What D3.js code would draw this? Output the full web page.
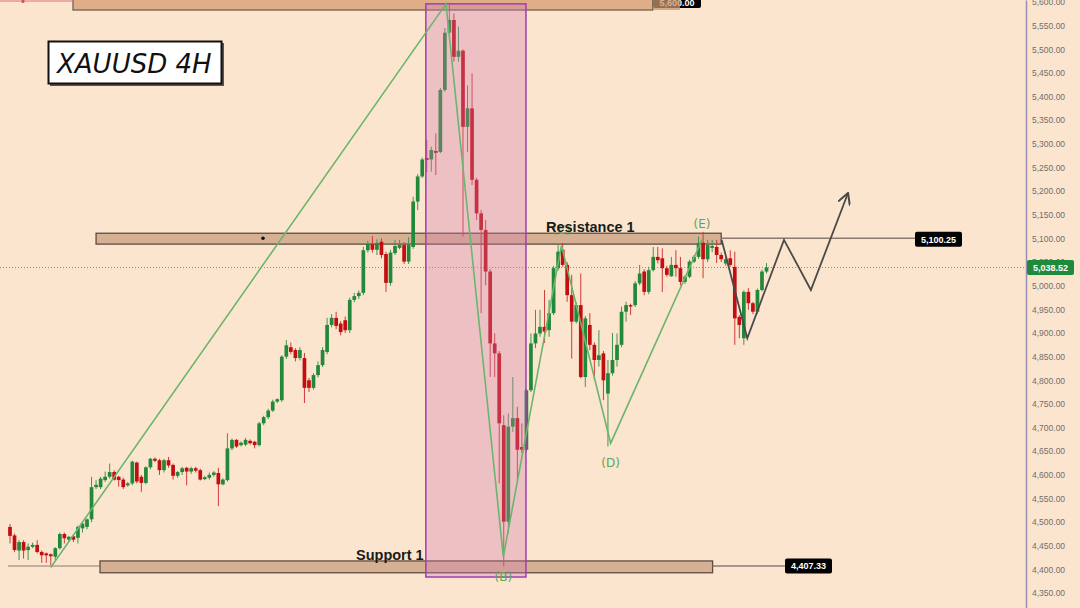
<!DOCTYPE html>
<html><head><meta charset="utf-8">
<script src="https://cdn.jsdelivr.net/npm/d3@7"></script>
<style>html,body{margin:0;padding:0;background:#fce5ce;}svg{display:block}</style>
</head><body><svg id="c" width="1080" height="608"></svg>
<script>
// ---- DATA ----
const opens = [4490,4472,4440,4458,4441,4448,4452,4437,4434,4432,4427,4445,4475,4463,4470,4467,4487,4490,4506,4574,
4574,4589,4596,4606,4596,4590,4578,4582,4626,4596,4583,4616,4634,4631,4610,4631,4621,4598,4606,4615,
4607,4614,4610,4591,4594,4600,4604,4580,4589,4656,4674,4663,4664,4672,4670,4663,4709,4722,4736,4755,
4758,4850,4870,4864,4847,4847,4800,4784,4811,4832,4860,4917,4932,4920,4927,4906,4970,4978,4985,5075,
5088,5076,5093,5067,5006,5069,5080,5086,5051,5082,5178,5231,5270,5267,5285,5283,5414,5535,5562,5484,
5497,5336,5375,5224,5153,5118,5030,4878,4857,4705,4501,4702,4720,4659,4653,4779,4878,4899,4913,4906,
4942,5037,5076,5044,4980,4924,4959,4807,4917,4875,4843,4857,4772,4815,4843,4875,4945,4959,4959,5005,
5030,4987,5033,5061,5058,5037,5020,5044,5037,5008,5019,5051,5061,5091,5056,5080,5082,5065,5047,5058,
5040,4934,4889,4987,4963,4945,4991,5030];
const highs = [4496,4476,4462,4462,4455,4457,4462,4440,4436,4434,4447,4478,4478,4471,4474,4493,4500,4508,4596,4589,
4596,4607,4624,4610,4598,4594,4585,4630,4628,4600,4618,4636,4637,4634,4634,4638,4624,4608,4617,4617,
4617,4617,4613,4598,4605,4608,4615,4593,4688,4677,4676,4671,4678,4675,4672,4712,4725,4740,4759,4762,
4853,4885,4880,4868,4870,4858,4805,4815,4840,4870,4932,4940,4945,4925,4935,4975,4985,4990,5082,5095,
5105,5098,5100,5072,5076,5097,5097,5092,5103,5188,5236,5271,5308,5294,5322,5418,5545,5594,5576,5548,
5500,5424,5449,5228,5160,5139,5035,4899,4862,4726,4730,4807,4744,4709,4783,4899,4949,4949,4991,4970,
5042,5086,5090,5050,5023,4965,5026,4936,4942,4880,4906,4862,4843,4900,4899,4956,4966,4962,5010,5044,
5035,5040,5082,5082,5079,5042,5061,5075,5061,5022,5055,5065,5104,5114,5097,5097,5097,5070,5060,5075,
5072,4938,4990,4995,4966,4994,5034,5048];
const lows = [4455,4437,4420,4423,4420,4445,4434,4414,4414,4409,4420,4442,4455,4460,4458,4455,4478,4485,4500,4570,
4570,4585,4592,4588,4575,4570,4575,4578,4582,4564,4580,4612,4627,4600,4605,4615,4590,4594,4600,4578,
4602,4605,4588,4589,4590,4596,4534,4578,4586,4652,4657,4660,4661,4664,4656,4660,4705,4718,4733,4752,
4754,4845,4855,4840,4842,4752,4775,4780,4806,4828,4855,4912,4908,4895,4900,4900,4965,4972,4980,5070,
5070,5065,5058,4987,5000,5065,5077,5046,5046,5078,5160,5228,5240,5241,5234,5280,5410,5530,5474,5474,
5104,5283,5213,5139,4942,5001,4807,4807,4582,4407,4476,4691,4589,4646,4648,4775,4868,4892,4879,4892,
4938,5032,5040,4966,4846,4920,4804,4786,4864,4800,4829,4758,4660,4810,4829,4870,4924,4938,4955,5001,
4980,4982,5030,5047,4987,5019,5019,5019,5001,5004,5016,5048,5057,5016,5050,5071,5048,5050,5042,5040,
4875,4889,4875,4949,4940,4940,4988,5026];
const closes = [4471,4441,4458,4440,4448,4452,4437,4430,4430,4428,4445,4475,4466,4469,4463,4490,4497,4506,4574,4579,
4592,4596,4606,4590,4589,4574,4582,4628,4586,4583,4616,4634,4630,4610,4631,4620,4598,4606,4614,4607,
4614,4609,4590,4595,4600,4605,4580,4590,4656,4674,4660,4668,4674,4667,4663,4709,4722,4736,4755,4760,
4850,4874,4860,4847,4864,4784,4784,4811,4832,4864,4917,4932,4915,4902,4906,4970,4978,4985,5075,5088,
5076,5090,5065,5006,5070,5084,5086,5051,5086,5178,5231,5267,5266,5287,5281,5414,5535,5562,5484,5497,
5336,5375,5224,5153,5118,5030,4878,4857,4709,4501,4702,4720,4653,4653,4779,4878,4899,4913,4903,4942,
5037,5072,5044,4980,4924,4959,4807,4931,4875,4843,4853,4800,4815,4843,4875,4945,4959,4956,5005,5026,
4987,5033,5061,5054,5037,5023,5044,5037,5008,5019,5051,5061,5090,5056,5086,5084,5065,5056,5056,5044,
4931,4917,4987,4963,4945,4991,5030,5038.52];

const priceTicks = d3.range(4350, 5601, 50);
const lastPrice = 5038.52;
const resistanceLevel = 5100.25, supportLevel = 4407.33, topLevel = 5600.00;

// wave annotation points: [candle index, price]
const waveIdx   = [8.98, 96.25, 108.9, 121.74, 132.6, 152.76];
const wavePrice = [4404, 5596, 4427, 5085, 4667, 5097];
const waveLabels = ["", "", "(B)", "(C)", "(D)", "(E)"];
const projIdx   = [157.1, 162.76, 170.86, 176.8, 185];
const projPrice = [5097, 4889, 5097, 4991, 5196];

// zones: [startIdx, endIdx, topPrice, bottomPrice]
const resistanceZone = [19, 157, 5111, 5088];
const supportZone = [19.87, 155.1, 4418, 4393];
const topZone = [13.9, 141.9, 5606, 5583];
const highlightBox = [91.8, 113.9, 5596, 4384];

// ---- CHART ----
const svg = d3.select("#c");
const W = 1080, H = 608, axisX = 1026;
const x = d3.scaleLinear().domain([0, 167]).range([10, 766.5]);
const y = d3.scaleLinear().domain([4318.5, 5604.2]).range([608, 0]);

svg.append("rect").attr("width", W).attr("height", H).attr("fill", "#fce5ce");

// top zone
svg.append("rect").attr("x", x(topZone[0])).attr("y", y(topZone[2]))
  .attr("width", x(topZone[1]) - x(topZone[0])).attr("height", y(topZone[3]) - y(topZone[2]))
  .attr("fill", "#dfae88").attr("stroke", "#6d5a4c").attr("stroke-width", 1.2);
// top label
const topLab = svg.append("g");
topLab.append("rect").attr("x", 653).attr("y", y(topLevel) - 8).attr("width", 48).attr("height", 14)
  .attr("rx", 2).attr("fill", "#000");
topLab.append("text").attr("x", 677).attr("y", y(topLevel) + 4).attr("text-anchor", "middle")
  .attr("font-family", "Liberation Sans").attr("font-size", 9).attr("font-weight", "bold").attr("fill", "#fff")
  .text(d3.format(",.2f")(topLevel));
svg.append("rect").attr("x", 653).attr("y", -2).attr("width", 27).attr("height", 12)
  .attr("fill", "#c7946c").attr("opacity", 0.75);

// top-left red marker
svg.append("line").attr("x1", 0).attr("x2", x(topZone[0])).attr("y1", 1).attr("y2", 1)
  .attr("stroke", "#e07080").attr("stroke-width", 1);
svg.append("circle").attr("cx", 23).attr("cy", 1.5).attr("r", 1.6).attr("fill", "#d05060");

// resistance zone
svg.append("rect").attr("x", x(resistanceZone[0])).attr("y", y(resistanceZone[2]))
  .attr("width", x(resistanceZone[1]) - x(resistanceZone[0])).attr("height", y(resistanceZone[3]) - y(resistanceZone[2]))
  .attr("fill", "#d6b092").attr("stroke", "#5e4c42").attr("stroke-width", 1.3);
svg.append("line").attr("x1", x(resistanceZone[1])).attr("x2", 916)
  .attr("y1", y(resistanceLevel)).attr("y2", y(resistanceLevel)).attr("stroke", "#8a7a70").attr("stroke-width", 1.5);
svg.append("circle").attr("cx", 263).attr("cy", y(resistanceLevel)).attr("r", 1.8).attr("fill", "#111");

// support zone
svg.append("line").attr("x1", 8).attr("x2", x(supportZone[0]))
  .attr("y1", y(supportLevel)).attr("y2", y(supportLevel)).attr("stroke", "#8a7a70").attr("stroke-width", 1.2);
svg.append("rect").attr("x", x(supportZone[0])).attr("y", y(supportZone[2]))
  .attr("width", x(supportZone[1]) - x(supportZone[0])).attr("height", y(supportZone[3]) - y(supportZone[2]))
  .attr("fill", "#d6b092").attr("stroke", "#5e4c42").attr("stroke-width", 1.3);
svg.append("line").attr("x1", x(supportZone[1])).attr("x2", 785)
  .attr("y1", y(supportLevel)).attr("y2", y(supportLevel)).attr("stroke", "#8a7a70").attr("stroke-width", 1.5);

// dotted last price line
svg.append("line").attr("x1", 0).attr("x2", axisX).attr("y1", y(lastPrice)).attr("y2", y(lastPrice))
  .attr("stroke", "#8c8c8c").attr("stroke-width", 1).attr("stroke-dasharray", "1,2");

// candles
const data = opens.map((o, i) => ({i, o, h: highs[i], l: lows[i], c: closes[i]}));
const bw = 3.7;
const cg = svg.append("g");
cg.selectAll("line.wick").data(data).join("line").attr("class", "wick")
  .attr("x1", d => x(d.i)).attr("x2", d => x(d.i)).attr("y1", d => y(d.h)).attr("y2", d => y(d.l))
  .attr("stroke", d => d.c >= d.o ? "#3d9650" : "#cf3a3a").attr("stroke-width", 1);
cg.selectAll("rect.body").data(data).join("rect").attr("class", "body")
  .attr("x", d => x(d.i) - bw / 2).attr("width", bw)
  .attr("y", d => y(Math.max(d.o, d.c)))
  .attr("height", d => Math.max(1.2, Math.abs(y(d.o) - y(d.c))))
  .attr("fill", d => d.c >= d.o ? "#22883a" : "#c20e10");

// highlight box
svg.append("rect").attr("x", x(highlightBox[0])).attr("y", y(highlightBox[2]))
  .attr("width", x(highlightBox[1]) - x(highlightBox[0])).attr("height", y(highlightBox[3]) - y(highlightBox[2]))
  .attr("fill", "rgb(205,120,175)").attr("fill-opacity", 0.33)
  .attr("stroke", "#a13fae").attr("stroke-width", 1.5);

// wave lines
const line = d3.line().x(d => x(d[0])).y(d => y(d[1]));
svg.append("path").datum(waveIdx.map((v, k) => [v, wavePrice[k]])).attr("d", line)
  .attr("fill", "none").attr("stroke", "#6cb56c").attr("stroke-width", 1.6).attr("stroke-linejoin", "miter");
svg.selectAll("text.wl").data(waveLabels.map((t, k) => ({t, k})).filter(d => d.t)).join("text").attr("class", "wl")
  .attr("x", d => x(waveIdx[d.k])).attr("y", d => y(wavePrice[d.k]) + (d.k % 2 === 0 ? 24 : -12))
  .attr("text-anchor", "middle").attr("font-family", "DejaVu Sans").attr("font-size", 12)
  .attr("fill", "#5aa75a").text(d => d.t);

// projection
const defs = svg.append("defs");
defs.append("marker").attr("id", "ah").attr("viewBox", "0 0 10 10").attr("refX", 9).attr("refY", 5)
  .attr("markerWidth", 7).attr("markerHeight", 7).attr("orient", "auto")
  .append("path").attr("d", "M0,0 L9,5 L0,10").attr("fill", "none").attr("stroke", "#4a4a4a").attr("stroke-width", 1.6);
svg.append("path").datum(projIdx.map((v, k) => [v, projPrice[k]])).attr("d", line)
  .attr("fill", "none").attr("stroke", "#4a4a4a").attr("stroke-width", 1.8).attr("marker-end", "url(#ah)");

// level labels
function priceTag(px, py, txt, fill) {
  const g = svg.append("g");
  g.append("rect").attr("x", px).attr("y", py - 7.5).attr("width", 47).attr("height", 15).attr("rx", 2).attr("fill", fill);
  g.append("text").attr("x", px + 23.5).attr("y", py + 3.2).attr("text-anchor", "middle")
    .attr("font-family", "Liberation Sans").attr("font-size", 9).attr("font-weight", "bold").attr("fill", "#fff").text(txt);
}
priceTag(915, y(resistanceLevel) + 1, d3.format(",.2f")(resistanceLevel), "#000");
priceTag(785, y(supportLevel), d3.format(",.2f")(supportLevel), "#000");

// zone texts
svg.append("text").attr("x", 546).attr("y", 232).attr("font-family", "Liberation Sans").attr("font-weight", "bold")
  .attr("font-size", 14.5).attr("fill", "#1a1a1a").text("Resistance 1");
svg.append("text").attr("x", 356).attr("y", 560).attr("font-family", "Liberation Sans").attr("font-weight", "bold")
  .attr("font-size", 14.5).attr("fill", "#1a1a1a").text("Support 1");

// y axis
const ax = svg.append("g").attr("transform", `translate(${axisX},0)`)
  .call(d3.axisRight(y).tickValues(priceTicks).tickFormat(d3.format(",.2f")).tickSize(0).tickPadding(6));
ax.select(".domain").attr("stroke", "#9a8db2").attr("stroke-width", 1.5);
ax.selectAll("text").attr("font-family", "Liberation Sans").attr("font-size", 8.5).attr("fill", "#6f6f6f");
priceTag(1027, y(lastPrice), d3.format(",.2f")(lastPrice), "#1f8a3b");

// title
svg.append("rect").attr("x", 50).attr("y", 43).attr("width", 174).attr("height", 43).attr("fill", "#555");
svg.append("rect").attr("x", 48.5).attr("y", 41.5).attr("width", 173).attr("height", 42)
  .attr("fill", "#fff").attr("stroke", "#111").attr("stroke-width", 2);
svg.append("text").attr("x", 57).attr("y", 73).attr("font-family", "DejaVu Sans").attr("font-style", "italic")
  .attr("font-size", 26).attr("fill", "#111").text("XAUUSD 4H");
</script></body></html>
